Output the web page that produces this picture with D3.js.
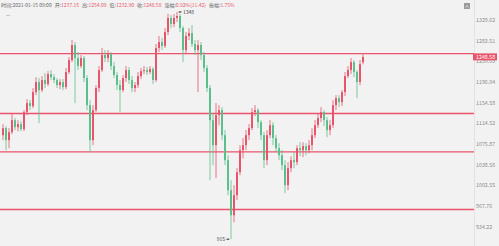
<!DOCTYPE html>
<html>
<head>
<meta charset="utf-8">
<script src="https://cdn.jsdelivr.net/npm/d3@7"></script>
<style>
  body { margin: 0; background: #f2f2f2; }
  svg { display: block; font-family: "Noto Sans CJK SC", "Noto Sans", sans-serif; }
</style>
</head>
<body>
<div id="chart"></div>
<script>
// hourly candles, oldest first
var opens = [1092.6,1105.8,1083.3,1098.2,1120.9,1107.6,1113.3,1103.9,1136.4,1154.0,
  1148.1,1175.8,1196.1,1179.8,1200.2,1192.0,1212.5,1206.3,1200.2,1190.0,
  1196.1,1185.9,1216.7,1241.8,1274.1,1246.0,1229.2,1246.0,1204.3,1150.0,
  1083.3,1140.2,1183.9,1220.8,1252.5,1246.0,1254.6,1229.2,1210.4,1190.0,
  1179.8,1204.3,1220.8,1200.2,1183.9,1190.0,1208.4,1218.7,1220.8,1216.7,
  1222.9,1200.2,1267.6,1280.6,1271.9,1302.6,1334.2,1320.6,1334.2,1338.7,
  1311.6,1263.2,1293.8,1300.4,1276.3,1263.2,1274.1,1252.5,1225.0,1183.9,
  1120.9,1074.1,1130.6,1140.2,1092.6,1047.0,994.7,953.1,986.2,1025.7,
  1065.0,1074.1,1092.6,1105.8,1136.4,1140.2,1117.1,1092.6,1047.0,1092.6,
  1111.4,1087.0,1068.6,1055.9,1038.1,1003.2,1032.8,1047.0,1043.4,1068.6,
  1065.0,1072.3,1065.0,1074.1,1092.6,1111.4,1124.8,1136.4,1120.9,1102.0,
  1111.4,1150.0,1163.8,1155.9,1175.8,1208.4,1220.8,1237.5,1216.7,1196.1,
  1237.15];
var highs = [1113.3,1109.5,1105.8,1134.4,1124.8,1120.9,1119.0,1140.2,1161.9,1159.9,
  1183.9,1206.3,1204.3,1208.4,1214.6,1218.7,1220.8,1212.5,1204.3,1202.2,
  1202.2,1225.0,1248.2,1285.0,1280.6,1258.9,1252.5,1250.3,1210.4,1159.9,
  1150.0,1190.0,1229.2,1267.6,1263.2,1263.2,1258.9,1237.5,1216.7,1200.2,
  1210.4,1229.2,1227.1,1208.4,1196.1,1216.7,1225.0,1229.2,1227.1,1229.2,
  1227.1,1276.3,1293.8,1289.4,1311.6,1343.3,1341.0,1343.3,1348.0,1343.3,
  1316.1,1302.6,1311.6,1318.3,1285.0,1285.0,1280.6,1258.9,1231.3,1190.0,
  1134.4,1154.0,1150.0,1146.1,1102.0,1055.9,1011.8,1003.2,1032.8,1074.1,
  1087.0,1102.0,1113.3,1144.1,1150.0,1144.1,1120.9,1098.2,1102.0,1120.9,
  1117.1,1092.6,1077.8,1065.0,1047.0,1043.4,1054.1,1061.3,1074.1,1079.6,
  1079.6,1077.8,1083.3,1105.8,1120.9,1134.4,1146.1,1140.2,1126.7,1120.9,
  1159.9,1169.8,1169.8,1179.8,1216.7,1229.2,1246.0,1241.8,1220.8,1241.8,
  1254.09];
var lows = [1083.3,1065.0,1068.6,1094.5,1102.0,1100.1,1100.1,1100.1,1130.6,1140.2,
  1144.1,1169.8,1115.2,1175.8,1183.9,1188.0,1200.2,1194.0,1183.9,1181.9,
  1179.8,1181.9,1212.5,1237.5,1154.0,1220.8,1225.0,1196.1,1140.2,1061.3,
  1074.1,1136.4,1175.8,1216.7,1237.5,1237.5,1220.8,1204.3,1179.8,1136.4,
  1175.8,1196.1,1192.0,1175.8,1175.8,1183.9,1202.2,1212.5,1210.4,1212.5,
  1192.0,1196.1,1258.9,1263.2,1267.6,1296.0,1311.6,1313.8,1325.1,1302.6,
  1237.5,1254.6,1285.0,1269.8,1252.5,1175.8,1241.8,1216.7,1175.8,1011.8,
  1038.1,1015.3,1111.4,1083.3,1038.1,986.2,915.0,941.8,977.9,1020.5,
  1050.6,1065.0,1083.3,1102.0,1128.6,1105.8,1083.3,1032.8,1038.1,1087.0,
  1074.1,1061.3,1047.0,1029.2,989.6,994.7,1025.7,1032.8,1038.1,1054.1,
  1052.4,1055.9,1059.5,1065.0,1087.0,1105.8,1117.1,1109.5,1088.9,1092.6,
  1105.8,1140.2,1146.1,1148.1,1167.8,1204.3,1212.5,1206.3,1163.8,1190.0,
  1232.90];
var closes = [1105.8,1083.3,1098.2,1120.9,1107.6,1113.3,1103.9,1136.4,1154.0,1148.1,
  1175.8,1196.1,1179.8,1200.2,1192.0,1212.5,1206.3,1200.2,1190.0,1196.1,
  1185.9,1216.7,1241.8,1274.1,1246.0,1229.2,1246.0,1204.3,1150.0,1083.3,
  1140.2,1183.9,1220.8,1252.5,1246.0,1254.6,1229.2,1210.4,1190.0,1179.8,
  1204.3,1220.8,1200.2,1183.9,1190.0,1208.4,1218.7,1220.8,1216.7,1222.9,
  1200.2,1267.6,1280.6,1271.9,1302.6,1334.2,1320.6,1334.2,1338.7,1311.6,
  1263.2,1293.8,1300.4,1276.3,1263.2,1274.1,1252.5,1225.0,1183.9,1120.9,
  1074.1,1130.6,1140.2,1092.6,1047.0,994.7,953.1,986.2,1025.7,1065.0,
  1074.1,1092.6,1105.8,1136.4,1140.2,1117.1,1092.6,1047.0,1092.6,1111.4,
  1087.0,1068.6,1055.9,1038.1,1003.2,1032.8,1047.0,1043.4,1068.6,1065.0,
  1072.3,1065.0,1074.1,1092.6,1111.4,1124.8,1136.4,1120.9,1102.0,1111.4,
  1150.0,1163.8,1155.9,1175.8,1208.4,1220.8,1237.5,1216.7,1196.1,1233.3,
  1248.58];

var tickLabels = ["1329.62","1283.51","1239.03","1196.04","1154.58","1114.52",
  "1075.87","1038.56","1002.55","967.76","934.22"];
var levels = [1255.6, 1133.8, 1061.9, 962.4];

var header = [
  ["时间:", "2021-01-15 09:00", false],
  ["开:", "1237.15", true],
  ["高:", "1254.09", true],
  ["低:", "1232.90", true],
  ["收:", "1248.58", true],
  ["涨幅:", "0.92%(11.42)", true],
  ["振幅:", "1.75%", true]
];

var red = "#e9546b", green = "#5bbf8c";

var W = 499, H = 246, plotRight = 474;

var svg = d3.select("#chart").append("svg")
    .attr("width", W)
    .attr("height", H);

svg.append("rect").attr("width", W).attr("height", H).attr("fill", "#f2f2f2");

var n = closes.length;
var x = d3.scaleLinear().domain([0, n - 1]).range([3, 363]);
var y = d3.scaleLog().domain([934.22, 1329.62]).range([227, 20]);

// axis separator
svg.append("line")
    .attr("x1", plotRight + 0.5).attr("x2", plotRight + 0.5)
    .attr("y1", 0).attr("y2", H)
    .attr("stroke", "#e2e2e2");

// right axis ticks
svg.append("g").selectAll("text")
    .data(tickLabels)
    .enter().append("text")
    .attr("x", 476)
    .attr("y", function(d) { return y(+d); })
    .attr("dy", "0.35em")
    .attr("font-size", 5.3)
    .attr("fill", "#8a8a8a")
    .text(function(d) { return d; });

// support / resistance lines
svg.append("g").selectAll("line")
    .data(levels)
    .enter().append("line")
    .attr("x1", 0).attr("x2", plotRight)
    .attr("y1", function(d) { return y(d); })
    .attr("y2", function(d) { return y(d); })
    .attr("stroke", red)
    .attr("stroke-width", 1.4);

// candles
var candles = svg.append("g").selectAll("g")
    .data(d3.range(n))
    .enter().append("g");

candles.append("line")
    .attr("x1", function(i) { return x(i); })
    .attr("x2", function(i) { return x(i); })
    .attr("y1", function(i) { return y(highs[i]); })
    .attr("y2", function(i) { return y(lows[i]); })
    .attr("stroke", function(i) { return closes[i] >= opens[i] ? red : green; })
    .attr("stroke-width", 0.8);

candles.append("rect")
    .attr("x", function(i) { return x(i) - 1; })
    .attr("width", 2)
    .attr("y", function(i) { return y(Math.max(opens[i], closes[i])); })
    .attr("height", function(i) {
        return Math.max(0.8, Math.abs(y(opens[i]) - y(closes[i])));
    })
    .attr("fill", function(i) { return closes[i] >= opens[i] ? red : green; });

// max / min markers
var hiIdx = d3.maxIndex(highs), loIdx = d3.minIndex(lows);

svg.append("line")
    .attr("x1", x(hiIdx) + 1.5).attr("x2", x(hiIdx) + 5)
    .attr("y1", y(highs[hiIdx])).attr("y2", y(highs[hiIdx]))
    .attr("stroke", "#444").attr("stroke-width", 0.6);
svg.append("path")
    .attr("d", "M" + (x(hiIdx) + 1.5) + "," + y(highs[hiIdx]) + "l2,-1v2z")
    .attr("fill", "#444");
svg.append("text")
    .attr("x", x(hiIdx) + 6)
    .attr("y", y(highs[hiIdx]))
    .attr("dy", "0.35em")
    .attr("font-size", 5)
    .attr("fill", "#444")
    .text(d3.format("d")(highs[hiIdx]));

svg.append("line")
    .attr("x1", x(loIdx) - 5).attr("x2", x(loIdx) - 1.5)
    .attr("y1", y(lows[loIdx])).attr("y2", y(lows[loIdx]))
    .attr("stroke", "#444").attr("stroke-width", 0.6);
svg.append("path")
    .attr("d", "M" + (x(loIdx) - 1.5) + "," + y(lows[loIdx]) + "l-2,-1v2z")
    .attr("fill", "#444");
svg.append("text")
    .attr("x", x(loIdx) - 6)
    .attr("y", y(lows[loIdx]))
    .attr("dy", "0.35em")
    .attr("text-anchor", "end")
    .attr("font-size", 5)
    .attr("fill", "#444")
    .text(d3.format("d")(lows[loIdx]));

// last price tag
var last = closes[n - 1];
svg.append("rect")
    .attr("x", plotRight - 1).attr("y", y(last) - 3.5)
    .attr("width", 24).attr("height", 7)
    .attr("fill", red);
svg.append("text")
    .attr("x", 476).attr("y", y(last))
    .attr("dy", "0.35em")
    .attr("font-size", 5.3)
    .attr("fill", "#fff")
    .text(d3.format(".2f")(last));

// header line
var head = svg.append("text")
    .attr("x", 1).attr("y", 7)
    .attr("font-size", 5)
    .attr("fill", "#666");
header.forEach(function(h, k) {
    head.append("tspan").attr("dx", k ? 3 : 0).text(h[0]);
    head.append("tspan").attr("fill", h[2] ? red : "#666").text(h[1]);
});

// small toolbar bits
svg.append("line")
    .attr("x1", 6).attr("x2", 10).attr("y1", 15.5).attr("y2", 15.5)
    .attr("stroke", "#bbb").attr("stroke-width", 0.8);
svg.append("rect")
    .attr("x", 464).attr("y", 3).attr("width", 6).attr("height", 6)
    .attr("fill", "#9a9a9a");
svg.append("path")
    .attr("d", "M465.5,7.5l1.5,-2l1.5,2")
    .attr("stroke", "#fff").attr("stroke-width", 0.6).attr("fill", "none");
</script>
</body>
</html>
